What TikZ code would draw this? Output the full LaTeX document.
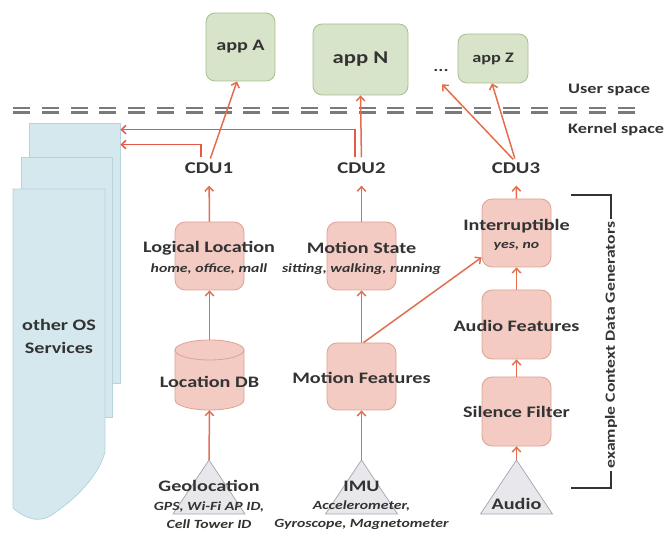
\documentclass[tikz,border=0pt]{standalone}
\usepackage{fontspec}
\setmainfont{Carlito}[FakeStretch=1.26]
\usetikzlibrary{arrows.meta}
\definecolor{txt}{HTML}{333333}
\definecolor{appfill}{HTML}{D8E4CA}
\definecolor{appline}{HTML}{A7BE8F}
\definecolor{genfill}{HTML}{F3CBC3}
\definecolor{genline}{HTML}{DFA193}
\definecolor{trifill}{HTML}{E8E8EC}
\definecolor{triline}{HTML}{A8A8B2}
\definecolor{pagefill}{HTML}{D4E8EE}
\definecolor{pageline}{HTML}{B6D4DD}
\definecolor{arrc}{HTML}{E36E4E}
\definecolor{osc}{HTML}{E8584A}
\definecolor{dashc}{HTML}{7A7A7A}
\begin{document}
\begin{tikzpicture}[x=1pt,y=-1pt,
  lab/.style={font=\bfseries\fontsize{16}{19}\selectfont, text=txt, inner sep=0pt},
  sublab/.style={font=\bfseries\itshape\fontsize{12.5}{18}\selectfont, text=txt, inner sep=0pt, align=center},
  app/.style={draw=appline, fill=appfill, rounded corners=9pt, line width=0.8pt, inner sep=0pt, text=txt},
  gen/.style={draw=genline, fill=genfill, rounded corners=10pt, line width=0.8pt, minimum width=69pt, minimum height=68pt, inner sep=0pt},
  tri/.style={draw=triline, fill=trifill, line width=0.8pt},
  page/.style={draw=pageline, fill=pagefill, line width=0.8pt, minimum width=91pt, minimum height=260pt, inner sep=0pt},
  arr/.style={draw=arrc, line width=1.5pt, -{Straight Barb[length=4.5pt,width=8.5pt]}},
  osarr/.style={draw=osc, line width=1.5pt, -{Straight Barb[length=4.5pt,width=8.5pt]}},
  bracket/.style={draw=txt, line width=1.4pt},
]
\useasboundingbox (0,0) rectangle (664,534);

% stack of OS service pages
\node[page] (os3) at (74.5,253) {};
\node[page] (os2) at (66.5,287) {};
\path[draw=pageline, fill=pagefill, line width=0.8pt]
  (13,189) -- (105,189) -- (105,452)
  .. controls (98,478) and (72,502) .. (50,516)
  .. controls (36,524) and (22,516) .. (13,508) -- cycle;
\node[lab, align=center, font=\bfseries\fontsize{16}{23}\selectfont] (os) at (59,336) {other OS\\Services};

% user / kernel boundary
\draw[dashc, line width=2.6pt, double=white, double distance=2pt, dash pattern=on 17pt off 11.8pt] (13,110.5) -- (644,110.5);
\node[lab, anchor=west, font=\bfseries\fontsize{14.5}{17}\selectfont] (us) at (568,90) {User space};
\node[lab, anchor=west, font=\bfseries\fontsize{14.5}{17}\selectfont] (ks) at (568,130) {Kernel space};

% applications
\node[app, minimum width=69pt, minimum height=68pt, font=\bfseries\fontsize{16}{19}\selectfont] (appA) at (240.5,47) {app A};
\node[app, minimum width=95pt, minimum height=71pt, font=\bfseries\fontsize{18}{21}\selectfont] (appN) at (360.5,59.5) {app N};
\node[app, minimum width=70pt, minimum height=49pt, font=\bfseries\fontsize{14.5}{17}\selectfont] (appZ) at (493,58.5) {app Z};
\node[lab, font=\bfseries\fontsize{15}{16}\selectfont] (dots) at (441,71) {...};

% context data units
\node[lab, font=\bfseries\fontsize{16.5}{19}\selectfont] (cdu1) at (209,168) {CDU1};
\node[lab, font=\bfseries\fontsize{16.5}{19}\selectfont] (cdu2) at (361.5,168) {CDU2};
\node[lab, font=\bfseries\fontsize{16.5}{19}\selectfont] (cdu3) at (516,168) {CDU3};

% generator boxes
\node[gen] (ll) at (209.5,256) {};
\node[gen] (ms) at (361.5,256) {};
\node[gen, minimum height=67pt] (mf) at (361.5,376.5) {};
\node[gen] (int) at (516.5,233) {};
\node[gen, minimum height=69pt] (af) at (516.5,324.5) {};
\node[gen, minimum height=69pt] (sf) at (516.5,411.5) {};

% location database cylinder
\node[minimum width=69pt, minimum height=70pt, inner sep=0pt] (ldb) at (209.5,375) {};
\path[draw=genline, fill=genfill, line width=0.8pt]
  (175,350) -- (175,400) arc[start angle=180, end angle=360, x radius=34.5pt, y radius=10pt]
  -- (244,350) -- cycle;
\path[draw=genline, fill=genfill, line width=0.8pt] (209.5,350) ellipse [x radius=34.5pt, y radius=10pt];

% sensor sources
\coordinate (geo) at (209,460);
\coordinate (imu) at (361.5,460);
\coordinate (aud) at (516.5,460);
\draw[tri] (geo) -- ++(36,54) -- ++(-72,0) -- cycle;
\draw[tri] (imu) -- ++(36,54) -- ++(-72,0) -- cycle;
\draw[tri] (aud) -- ++(36,54) -- ++(-72,0) -- cycle;

% data flow
\draw[arr] (geo) -- (ldb.south);
\draw[arr] (ldb.north) -- (ll.south);
\draw[arr, shorten >=12pt] (ll.north) -- (cdu1.south);
\draw[arr] (imu) -- (mf.south);
\draw[arr] (mf.north) -- (ms.south);
\draw[arr, shorten >=12pt] (ms.north) -- (cdu2.south);
\draw[arr] ([xshift=2pt]mf.north) -- ([yshift=10pt]int.south west);
\draw[arr] (aud) -- (sf.south);
\draw[arr] (sf.north) -- (af.south);
\draw[arr] (af.north) -- (int.south);
\draw[arr, shorten >=12pt] (int.north) -- (cdu3.south);

% delivery to applications
\draw[arr, shorten <=4pt] (cdu1.north) -- ([xshift=-3.5pt]appA.south);
\draw[arr, shorten <=5pt] (cdu2.north) -- (appN.south);
\draw[arr, shorten <=4pt] (cdu3.north) -- ([xshift=1pt,yshift=-12pt]dots.south);
\draw[arr, shorten <=4pt] (cdu3.north) -- ([xshift=-1pt]appZ.south);

% delivery to other OS services
\draw[osarr, shorten <=5pt] ([xshift=-8pt]cdu1.north) |- ([yshift=-22pt]os3.north east);
\draw[osarr, shorten <=5pt] ([xshift=-6.5pt]cdu2.north) |- ([yshift=-7pt]os3.north east);

% labels
\node[lab] (tll) at (209,248) {Logical Location};
\node[sublab] (sll) at (209,269) {home, office, mall};
\node[lab] (tms) at (361.5,248) {Motion State};
\node[sublab] (sms) at (361.5,269) {sitting, walking, running};
\node[lab] (tldb) at (209.5,382) {Location DB};
\node[lab] (tmf) at (361.5,378) {Motion Features};
\node[lab] (tint) at (516.5,226) {Interruptible};
\node[sublab] (sint) at (516.5,246) {yes, no};
\node[lab] (taf) at (516.5,326) {Audio Features};
\node[lab] (tsf) at (516.5,412) {Silence Filter};
\node[lab] (tgeo) at (209,486) {Geolocation};
\node[sublab] (sgeo) at (209,515) {GPS, Wi-Fi AP ID,\\Cell Tower ID};
\node[lab] (timu) at (361.5,486) {IMU};
\node[sublab] (simu) at (361.5,515) {Accelerometer,\\Gyroscope, Magnetometer};
\node[lab] (taud) at (516.5,504) {Audio};

% bracket around the generators
\node[lab, rotate=90, inner sep=2pt, font=\bfseries\fontsize{14}{16}\selectfont] (cdg) at (611,345) {example Context Data Generators};
\draw[bracket] (571,195) -| (cdg.east);
\draw[bracket] (571,488) -| (cdg.west);
\end{tikzpicture}
\end{document}
